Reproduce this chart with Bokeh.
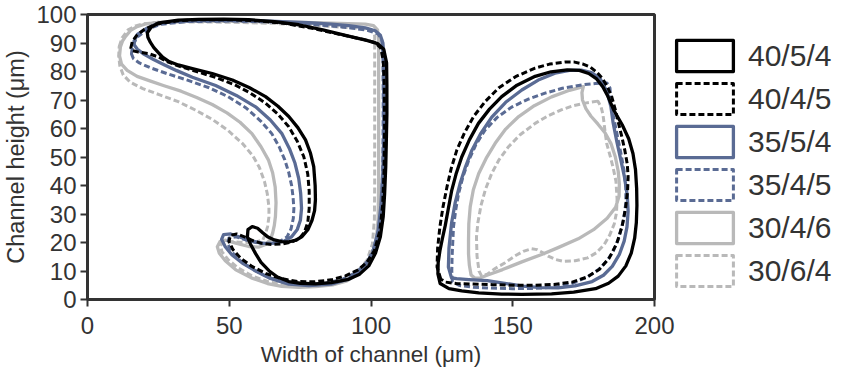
from bokeh.plotting import figure
from bokeh.models import Range1d, Legend, LegendItem, FixedTicker
from bokeh.embed import file_html
from bokeh.resources import INLINE

X_TICKS = [0, 50, 100, 150, 200]
Y_TICKS = [0, 10, 20, 30, 40, 50, 60, 70, 80, 90, 100]
LABELS = ["40/5/4", "40/4/5", "35/5/4", "35/4/5", "30/4/6", "30/6/4"]

# 40/5/4 (black solid)
S1_LEFT = [(21.1,93.6),(22.5,95.6),(25.2,97.1),(32,98.0),(39.3,98.3),(48,98.4),(56.9,98.2),(66,97.5),(74.5,96.4),(83,94.6),(92.1,92.4),(98.5,90.9),(102.3,89.8),(104.5,87.8),(105.5,83),(105.6,75),(105.6,65),(105.4,55),(105.2,46.6),(104.8,37),(104.3,29),(103.3,22),(101.6,16.3),(99.2,11.8),(96,8.9),(92.1,7.1),(86,5.9),(80.4,5.5),(75,5.7),(71,6.3),(67,7.9),(64,10.1),(61.2,13),(59.3,16.1),(57.5,19.4),(56.4,22),(56.6,24.5),(58.1,25.6),(60,25),(61.8,23.4),(63.7,21.9),(65.9,20.9),(68.5,20.3),(71,20.2),(73.5,20.8),(75.7,22.1),(77.8,24.6),(79.2,27.8),(80.1,31.2),(80.4,35),(80.3,40),(79.8,46.6),(78.6,51.5),(76.9,56),(74.2,60.3),(71,64.2),(67.2,67.8),(62.8,71.2),(57,74.4),(51.1,77.0),(44,79.3),(37,81.0),(32,82.3),(28.8,83.5),(26.5,85),(25.0,86.6),(23.4,88.4),(22.2,90.2),(21.3,92)]
S1_RIGHT = [(124.4,5.6),(123.6,9),(123.7,13),(124.3,17),(125.2,21.5),(126.2,26),(127.3,32),(128.5,38.4),(130,44),(132,50),(134.7,56),(137.9,61.8),(141.8,66.8),(146.1,71.2),(151.5,75.2),(157.9,78.3),(163.5,79.9),(169.2,80.6),(173.5,80.4),(176.8,79.3),(179.6,77.4),(181.8,74.6),(183.6,71.2),(185.6,66.5),(188.6,61.3),(190.9,56.4),(192.4,51.2),(193.3,45.5),(193.7,39),(193.8,33),(193.6,27),(193,21.5),(191.8,16.3),(189.9,11.8),(187.2,8.2),(183.8,5.7),(179.2,3.8),(171.5,2.6),(163.7,2.0),(153.2,1.8),(146.1,1.9),(138,2.3),(132,3.0),(127.5,3.8)]

# 40/4/5 (black dashed)
S2_LEFT = [(15.3,88.3),(15.8,90.5),(17.3,92.6),(19.8,94.6),(24,96.6),(32,97.8),(40,98.2),(50,98.2),(60,97.8),(70,96.8),(80,95.0),(90,92.8),(97.5,91.2),(101.3,90.2),(103.4,88.3),(104.3,84),(104.7,75),(104.8,60),(104.6,45),(104.1,33),(103.1,24),(101.2,17.2),(98.6,13.1),(95.5,10.4),(91,8.3),(86,6.9),(80,6.2),(74,6.3),(68,7.4),(63,9.1),(58,11.6),(54,14.5),(51.3,17.5),(49.9,20.4),(50.4,22.5),(52.6,23.0),(55.6,21.9),(58.5,20.6),(61.5,19.7),(65,19.3),(69,19.5),(72.3,20.3),(74.6,21.3),(76.5,23.6),(77.7,27),(78.2,32),(78.2,38),(77.7,44),(76.3,50.1),(74,55.5),(71,60.6),(67,65.2),(62.5,69.1),(57.5,72.4),(52,75.3),(45.5,77.8),(38.5,80.0),(32.5,81.8),(28,83.5),(25,85.1),(21.5,86.3),(18,86.8),(16,87.3)]
S2_RIGHT = [(124.6,7.2),(123.3,11.4),(123.5,18),(124.3,25.5),(125.4,32.5),(126.8,39.5),(128.3,46),(130.3,52.5),(133,58.5),(136.2,64.2),(140.3,69.5),(145,74.2),(151,78.2),(157.9,81.2),(163,82.6),(168.4,83.3),(171.8,83.3),(174.6,82.7),(177.3,81.6),(179.6,79.8),(181.6,77.6),(183.4,74.6),(184.9,71.2),(186.2,66.5),(187.3,61.9),(188.5,57),(189.5,52.5),(190.4,47.5),(190.7,43),(190.5,38),(189.8,32),(188.6,25.8),(186.7,19.7),(184,14.5),(180.6,10.6),(176.2,7.9),(171,6.1),(164.5,5.3),(157,5.0),(150,5.0),(143,5.2),(136,5.4),(130,5.6),(126.3,6.1)]

# 35/5/4 (blue solid)
S3_LEFT = [(16.4,90.6),(17.6,93.0),(20.6,95.0),(24,96.5),(30,97.5),(39.3,97.9),(50,98.0),(60,97.8),(68.7,97.5),(78,97.1),(86,96.6),(92.1,96.1),(98,95.3),(101.5,94.3),(103.3,92.7),(104.2,90),(104.5,86),(104.5,75),(104.5,58.3),(104.2,45),(103.5,33),(102.5,24),(100.6,16.5),(97.4,11),(92.5,7.3),(86,5.4),(78.1,4.9),(71,5.4),(64,7.6),(59,10.2),(54.6,12.8),(51,15.6),(48.6,18.5),(47.3,21.1),(48,22.8),(50.5,23.0),(53.4,22.0),(57.5,20.6),(61.6,19.7),(66,19.8),(69.3,20.5),(72,22),(74,24.6),(75.1,27.8),(75.5,32),(75.2,37.2),(74.5,42.5),(73.2,47.8),(71.2,53),(68.5,58.3),(64.5,63),(59.3,67.6),(52.5,71.6),(45.2,75.1),(37,78.0),(31.5,80.3),(27.2,82.3),(23.3,84.2),(20,86),(17.6,87.8),(16.5,89.3)]
S3_RIGHT = [(128.4,7.6),(127.3,11.4),(127.5,18),(128.4,26.7),(129.7,34),(131.4,40.6),(133.3,46.5),(135.6,52.4),(138.8,58.4),(142.6,64),(147.5,69.2),(153.2,73.5),(159,77),(164.9,79.4),(170,80.4),(174.2,80.5),(177.8,79.6),(180.9,77.4),(183.2,73),(184.6,67.8),(185.4,62),(186.7,55.5),(188,49.5),(189.4,43),(190.4,36.5),(190.7,31),(190.3,25.5),(189.3,20.5),(187.6,15.8),(185.1,11.6),(182,8.5),(178,6.3),(172,4.8),(166,4.1),(160,4.2),(153.5,4.7),(147.2,5.7),(141,6.6),(134.5,7.0),(130.2,7.3)]

# 35/4/5 (blue dashed)
S4_LEFT = [(15.5,86.2),(15.9,89.2),(17.8,92.3),(21.3,94.9),(26,96.6),(35,97.5),(50,97.7),(65,97.4),(80,96.5),(92,95.4),(99,94.4),(102.5,93.2),(103.8,91),(104.2,86),(104.3,70),(104.2,50),(103.8,35),(103.0,26),(101.5,19),(99,13.6),(95,9.6),(90,7.1),(84,5.7),(77,5.2),(70,5.8),(64,7.7),(58.6,10.4),(54,13.5),(51,16.6),(49.4,19.6),(49.9,21.6),(52.3,22.0),(55.8,20.9),(59.8,19.9),(64,19.6),(67.8,20.3),(70.4,22),(71.8,24.8),(72.6,28.5),(72.8,32),(72.5,36),(72.0,40),(71.0,44.5),(69.6,49),(67.6,53.6),(65,58.2),(61,62.7),(55.8,67.3),(49.5,71.2),(42.9,74.3),(35.5,76.9),(28.5,79.1),(22.5,81.2),(18.3,83.0),(16.2,84.5)]
S4_RIGHT = [(128.7,6.2),(128.5,10),(128.6,15),(129.1,25.5),(129.9,31.5),(130.9,37.2),(132.5,43.3),(134.5,48.9),(137,54.3),(140.2,59.4),(144.5,63.9),(149.6,67.5),(155.5,70.3),(161.4,72.4),(167.5,74.1),(174.3,75.3),(179.2,75.8),(183.2,76.0),(184.3,74.2),(184.6,70.5),(185.2,66),(186,61.9),(187.1,56.5),(188.2,51),(189.3,45),(189.9,39.3),(189.9,34),(189.1,28),(187.3,21.3),(185.3,16.6),(183.4,13.8),(180.4,10.6),(176.5,8.0),(171.5,5.8),(166,4.5),(158,3.9),(150,3.8),(142,4.0),(136,4.3),(131.3,4.9)]

# 30/4/6 (grey solid)
S5_LEFT = [(13.5,92.4),(15.2,94.4),(17.2,95.6),(20.2,96.6),(25,97.2),(35,97.6),(50,97.6),(65,97.4),(80,97.1),(92,96.8),(98,96.6),(100.9,96.1),(102.3,94.6),(102.7,91),(102.7,80),(102.7,60),(102.7,40),(102.5,28),(101.8,20),(99.5,14),(95.8,9.2),(91.2,6.4),(86.5,5.1),(80.5,4.5),(74.5,4.3),(68.5,4.6),(63.5,5.6),(57.8,7.6),(52.3,10.4),(48.6,13.6),(46.5,16.2),(45.8,18.5),(46.8,20.4),(48.8,20.8),(52.6,19.7),(56.9,18.6),(60.5,18.4),(62.8,19.3),(64.5,21),(65.3,23.3),(65.9,26),(66.3,29.2),(66.5,34),(66.2,39.5),(65.3,44.5),(63.8,49),(61.2,53.6),(58,58.2),(53.8,62.2),(49.2,65.5),(44,68.4),(38.5,70.9),(33,73.1),(27,75.0),(22,76.7),(17.5,78.3),(14,80.4),(12,82.6),(11.3,85.5),(11.6,88.6),(12.4,90.8)]
S5_RIGHT = [(174.9,74.7),(170,73.4),(163.7,71.1),(157.6,68),(152.1,64.2),(147.5,59.8),(143.8,54.8),(140.6,49.5),(138,44.2),(136.1,38.5),(135,32.6),(134.5,26.5),(134.4,20.8),(134.4,16),(134.7,12),(135.3,8.6),(136.6,7.5),(138.6,7.6),(141.4,8.7),(146.4,10.5),(153.2,13.2),(160.2,15.8),(166,18.2),(173.1,21.3),(178.5,24.5),(183.3,28.5),(186.3,32.4),(187.5,36.2),(187.6,40.5),(187.2,45),(186.2,50),(184.7,54.6),(182.6,58.4),(180,61.6),(177.6,64.3),(175.8,67),(174.6,70),(174.4,72.6)]

# 30/6/4 (grey dashed)
S6_LEFT = [(11.2,88.8),(12.2,91.8),(14.3,94.6),(17,96),(19.4,96.7),(25.2,97.3),(35,97.4),(50,97.3),(65,96.9),(80,96.2),(92,95.4),(98,94.9),(100.7,94.4),(101.3,92.5),(101.3,85),(101.3,60),(101.3,40),(101.2,28),(100.5,19.5),(98.6,13.8),(95.2,9.7),(90.2,7.1),(84,5.5),(77,4.9),(70,5.1),(64,6.2),(58.2,8.2),(53.2,11),(49.6,14),(47.4,16.8),(46.9,19.0),(48.2,20.3),(51.1,20.3),(55,20.0),(59,20.1),(61.8,20.8),(62.8,23.1),(63.5,25.5),(64,29),(64,32.5),(63.4,37.2),(62.4,41.5),(60.6,46.4),(58.2,50.6),(54.6,54.8),(49.6,59.3),(44,63.2),(38,66.5),(32,69.4),(25.5,71.8),(19.5,74),(15,76.3),(12.6,78.8),(11.4,82),(11.0,85.5)]
S6_RIGHT = [(180.0,69.6),(175.5,68.9),(171,67.9),(167.3,66.6),(162.5,64.5),(157.9,61.8),(152.6,57.8),(148.5,53.6),(145.2,49.1),(142.6,44.3),(140.4,38.7),(138.8,33),(137.7,27),(137.2,21.9),(137.4,15.2),(138.1,10),(139,8.3),(141,8.9),(143.8,10.9),(147.3,12.9),(150.8,15.3),(153.7,16.9),(156.6,17.8),(158.6,17.5),(160.5,16.5),(162.7,15.1),(165.2,14.0),(168,13.4),(172,13.6),(176.4,14.6),(179.5,16.4),(182.2,19.2),(184.2,22.6),(185.8,26.5),(186.6,30.5),(186.8,35.2),(186.4,41.5),(185.4,46.3),(184.4,50.2),(183.2,54.5),(182.6,58.5),(182.2,62),(181.8,65),(181.1,67.8)]

BLACK = "#000000"
BLUE = "#5a6b94"
GREY = "#b9b9b9"
TXT = "#333333"
FONT = "Liberation Sans"

series = [
    ("40/5/4", BLACK, "solid", S1_LEFT, S1_RIGHT),
    ("40/4/5", BLACK, "6 3", S2_LEFT, S2_RIGHT),
    ("35/5/4", BLUE, "solid", S3_LEFT, S3_RIGHT),
    ("35/4/5", BLUE, "6 3", S4_LEFT, S4_RIGHT),
    ("30/4/6", GREY, "solid", S5_LEFT, S5_RIGHT),
    ("30/6/4", GREY, "6 3", S6_LEFT, S6_RIGHT),
]

p = figure(frame_width=567, frame_height=285, x_range=Range1d(0, 200), y_range=Range1d(0, 100),
           output_backend="svg", toolbar_location=None,
           min_border_left=86, min_border_right=189, min_border_top=14, min_border_bottom=74)
p.grid.visible = False
p.outline_line_color = "#333333"
p.outline_line_width = 3
p.background_fill_color = "white"
p.border_fill_color = "white"

for ax in (p.xaxis[0], p.yaxis[0]):
    ax.axis_line_color = None
    ax.major_tick_in = 0
    ax.major_tick_out = 7
    ax.minor_tick_line_color = None
    ax.major_tick_line_color = "#333333"
    ax.major_tick_line_width = 2
    ax.major_label_text_font = FONT
    ax.major_label_text_font_size = "24px"
    ax.major_label_text_color = TXT
    ax.axis_label_text_font = FONT
    ax.axis_label_text_font_style = "normal"
    ax.axis_label_text_color = TXT
p.xaxis.axis_label_text_font_size = "22.5px"
p.yaxis.axis_label_text_font_size = "23.5px"
p.xaxis.ticker = FixedTicker(ticks=X_TICKS)
p.yaxis.ticker = FixedTicker(ticks=Y_TICKS)
p.xaxis.axis_label = "Width of channel (μm)"
p.yaxis.axis_label = "Channel height (μm)"
p.xaxis.major_label_standoff = 10
p.yaxis.major_label_standoff = 4
p.xaxis.axis_label_standoff = 5
p.yaxis.axis_label_standoff = 4

renders = {}
for label, color, dash, left, right in reversed(series):
    xs = [[pt[0] for pt in left], [pt[0] for pt in right]]
    ys = [[pt[1] for pt in left], [pt[1] for pt in right]]
    r = p.patches(xs=xs, ys=ys, fill_color=None, line_color=color,
                  line_width=3.3 if dash == "solid" else 3, line_dash=dash, line_join="round")
    renders[label] = r

legend = Legend(items=[LegendItem(label=l, renderers=[renders[l]]) for l in LABELS],
                location=(15, 9), orientation="vertical",
                glyph_width=71, glyph_height=39, spacing=4, padding=0, margin=0,
                label_standoff=8, border_line_color=None, background_fill_alpha=0,
                label_text_font=FONT, label_text_font_size="30px", label_text_color=TXT)
p.add_layout(legend, "right")

open("out.html", "w").write(file_html(p, INLINE))
